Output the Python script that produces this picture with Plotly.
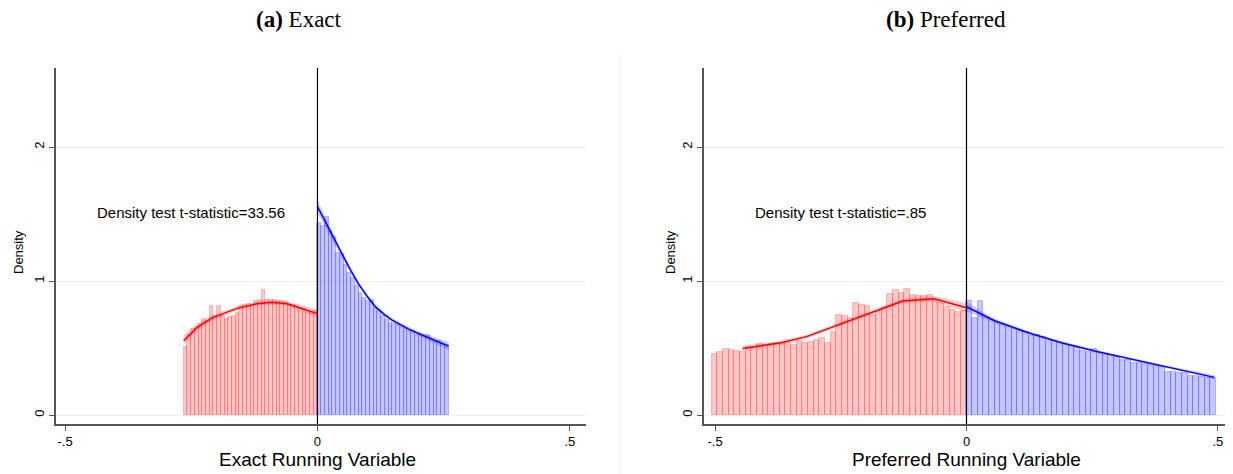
import plotly.graph_objects as go

# ---------------- data ----------------
# Panel (a) Exact: histogram bins
a_red_start, a_red_width = -0.265, 0.00736
a_red_density = [0.51, 0.60, 0.64, 0.66, 0.68, 0.72, 0.70, 0.81, 0.74, 0.81,
                 0.74, 0.72, 0.73, 0.74, 0.76, 0.81, 0.82, 0.83, 0.81, 0.85,
                 0.86, 0.93, 0.86, 0.86, 0.86, 0.85, 0.85, 0.84, 0.83, 0.82,
                 0.81, 0.80, 0.79, 0.78, 0.77, 0.775]
a_blue_start, a_blue_width = 0.0, 0.00743
a_blue_density = [1.43, 1.41, 1.48, 1.37, 1.33, 1.21, 1.20, 1.12, 1.06, 1.02,
                  0.96, 0.91, 0.87, 0.85, 0.86, 0.80, 0.78, 0.74, 0.71, 0.69,
                  0.68, 0.67, 0.66, 0.64, 0.63, 0.62, 0.60, 0.60, 0.58, 0.60,
                  0.56, 0.55, 0.555, 0.52, 0.51]
# Panel (a) fitted densities
a_red_fit_x = [-0.265, -0.238, -0.209, -0.159, -0.12, -0.09, -0.06, -0.027, 0.0]
a_red_fit_y = [0.555, 0.655, 0.725, 0.796, 0.830, 0.842, 0.830, 0.790, 0.757]
a_red_ci = [0.035, 0.025, 0.02, 0.015, 0.015, 0.015, 0.015, 0.02, 0.03]
a_blue_fit_x = [0.0, 0.016, 0.032, 0.048, 0.065, 0.081, 0.098, 0.114, 0.131, 0.147,
                0.164, 0.180, 0.197, 0.213, 0.230, 0.245, 0.260]
a_blue_fit_y = [1.555, 1.437, 1.320, 1.200, 1.085, 0.980, 0.888, 0.812, 0.755, 0.710,
                0.675, 0.643, 0.614, 0.587, 0.562, 0.538, 0.515]
a_blue_ci = [0.05, 0.04, 0.03, 0.025, 0.02, 0.018, 0.015, 0.015, 0.015, 0.015,
             0.015, 0.015, 0.015, 0.017, 0.02, 0.025, 0.03]

# Panel (b) Preferred: histogram bins
b_red_start, b_red_width = -0.507, 0.01127
b_red_density = [0.455, 0.470, 0.490, 0.483, 0.480, 0.470, 0.510, 0.510, 0.527, 0.522,
                 0.530, 0.540, 0.540, 0.540, 0.520, 0.555, 0.540, 0.545, 0.560, 0.572,
                 0.535, 0.617, 0.746, 0.739, 0.721, 0.833, 0.821, 0.813, 0.746, 0.776,
                 0.804, 0.903, 0.933, 0.908, 0.938, 0.898, 0.888, 0.888, 0.895, 0.853,
                 0.833, 0.804, 0.784, 0.766, 0.776]
b_blue_start, b_blue_width = 0.0, 0.01127
b_blue_density = [0.848, 0.726, 0.848, 0.734, 0.709, 0.684, 0.672, 0.659, 0.639, 0.629,
                  0.619, 0.592, 0.597, 0.585, 0.555, 0.552, 0.535, 0.520, 0.515, 0.505,
                  0.480, 0.470, 0.490, 0.465, 0.445, 0.445, 0.435, 0.410, 0.410, 0.390,
                  0.386, 0.381, 0.373, 0.366, 0.356, 0.323, 0.323, 0.316, 0.316, 0.294,
                  0.291, 0.286, 0.274, 0.274]
# Panel (b) fitted densities
b_red_fit_x = [-0.445, -0.369, -0.318, -0.217, -0.127, -0.064, 0.0]
b_red_fit_y = [0.497, 0.540, 0.585, 0.726, 0.851, 0.868, 0.800]
b_red_ci = [0.02, 0.015, 0.015, 0.015, 0.015, 0.02, 0.035]
b_blue_fit_x = [0.0, 0.056, 0.123, 0.189, 0.255, 0.321, 0.388, 0.454, 0.493]
b_blue_fit_y = [0.808, 0.704, 0.614, 0.540, 0.478, 0.423, 0.366, 0.316, 0.281]
b_blue_ci = [0.035, 0.015, 0.012, 0.01, 0.01, 0.01, 0.01, 0.012, 0.015]

panel_titles = ["<b>(a)</b> Exact", "<b>(b)</b> Preferred"]
x_titles = ["Exact Running Variable", "Preferred Running Variable"]
y_title = "Density"
stat_texts = ["Density test t-statistic=33.56", "Density test t-statistic=.85"]
x_tickvals = [-0.5, 0, 0.5]
x_ticktext = ["-.5", "0", ".5"]
y_tickvals = [0, 1, 2]
y_ticktext = ["0", "1", "2"]

# ---------------- styling ----------------
RED_FILL, RED_EDGE, RED_LINE, RED_BAND = "rgba(255,0,0,0.22)", "rgba(255,0,0,0.3)", "#ff0000", "rgba(255,0,0,0.2)"
BLUE_FILL, BLUE_EDGE, BLUE_LINE, BLUE_BAND = "rgba(0,0,255,0.22)", "rgba(0,0,255,0.3)", "#0000ff", "rgba(0,0,255,0.2)"
SANS = "Liberation Sans, Arial, sans-serif"
SERIF = "Liberation Serif, Times New Roman, serif"

fig = go.Figure()


def add_hist(start, width, dens, fill, edge, xa, ya):
    centers = [start + (i + 0.5) * width for i in range(len(dens))]
    fig.add_trace(go.Bar(x=centers, y=dens, width=[width] * len(dens),
                         marker=dict(color=fill, line=dict(color=edge, width=0.8)),
                         xaxis=xa, yaxis=ya, showlegend=False, hoverinfo="skip"))


def add_fit(xs, ys, ci, band, line, xa, ya):
    up = [y + c for y, c in zip(ys, ci)]
    lo = [y - c for y, c in zip(ys, ci)]
    fig.add_trace(go.Scatter(x=xs + xs[::-1], y=up + lo[::-1], fill="toself",
                             fillcolor=band, line=dict(width=0), mode="lines",
                             xaxis=xa, yaxis=ya, showlegend=False, hoverinfo="skip"))
    fig.add_trace(go.Scatter(x=xs, y=ys, mode="lines", line=dict(color=line, width=1.5),
                             xaxis=xa, yaxis=ya, showlegend=False))


add_hist(a_red_start, a_red_width, a_red_density, RED_FILL, RED_EDGE, "x", "y")
add_hist(a_blue_start, a_blue_width, a_blue_density, BLUE_FILL, BLUE_EDGE, "x", "y")
add_fit(a_red_fit_x, a_red_fit_y, a_red_ci, RED_BAND, RED_LINE, "x", "y")
add_fit(a_blue_fit_x, a_blue_fit_y, a_blue_ci, BLUE_BAND, BLUE_LINE, "x", "y")

add_hist(b_red_start, b_red_width, b_red_density, RED_FILL, RED_EDGE, "x2", "y2")
add_hist(b_blue_start, b_blue_width, b_blue_density, BLUE_FILL, BLUE_EDGE, "x2", "y2")
add_fit(b_red_fit_x, b_red_fit_y, b_red_ci, RED_BAND, RED_LINE, "x2", "y2")
add_fit(b_blue_fit_x, b_blue_fit_y, b_blue_ci, BLUE_BAND, BLUE_LINE, "x2", "y2")

# page has an 8px body margin: lay out in page pixels, then offset
OFF = 8
W, H = 1233 - OFF, 474 - OFF


def px(x):
    return (x - OFF) / W


def py(y):
    return 1 - (y - OFF) / H


ydom = [py(424), py(68)]
xdoms = [[px(56), px(586)], [px(704), 1.0]]
xranges = [[-0.518, 0.532], [-0.522, 0.530]]
yrange = [-0.067, 2.59]

tick_font = dict(family=SANS, size=13, color="#000")
layout = dict(width=W, height=H, margin=dict(l=0, r=0, t=0, b=0),
              paper_bgcolor="white", plot_bgcolor="white", barmode="overlay",
              bargap=0, showlegend=False)

for k in range(2):
    sx = "" if k == 0 else "2"
    layout["xaxis" + sx] = dict(domain=xdoms[k], range=xranges[k], tickvals=x_tickvals,
                                ticktext=x_ticktext, showgrid=False, zeroline=False,
                                showline=True, linecolor="#555", linewidth=1.5,
                                ticks="outside", ticklen=5, tickcolor="#555",
                                tickfont=tick_font, anchor="y" + sx, automargin=False)
    layout["yaxis" + sx] = dict(domain=ydom, range=yrange, tickvals=y_tickvals,
                                ticktext=y_ticktext, tickangle=-90, showgrid=True,
                                gridcolor="#e8f0f1", gridwidth=1, zeroline=False,
                                showline=True, linecolor="#555", linewidth=1.5,
                                ticks="outside", ticklen=5, tickcolor="#555",
                                tickfont=tick_font, anchor="x" + sx, automargin=False)

fig.update_layout(**layout)

title_x = [px(299), px(946)]
ytitle_x = [px(18), px(670)]
for k in range(2):
    sx = "" if k == 0 else "2"
    # cutoff line
    fig.add_shape(type="line", xref="x" + sx, yref="paper", x0=0, x1=0,
                  y0=ydom[0], y1=ydom[1], line=dict(color="black", width=1.2))
    # density test annotation
    fig.add_annotation(xref="x" + sx, yref="y" + sx, x=-0.25, y=1.51, text=stat_texts[k],
                       showarrow=False, font=dict(family=SANS, size=15, color="#000"))
    # x-axis title
    fig.add_annotation(xref="x" + sx, yref="paper", x=0, y=py(459), text=x_titles[k],
                       showarrow=False, xanchor="center", yanchor="middle",
                       font=dict(family=SANS, size=19, color="#000"))
    # y-axis title
    fig.add_annotation(xref="paper", yref="paper", x=ytitle_x[k], y=py(252), text=y_title,
                       textangle=-90, showarrow=False, xanchor="center", yanchor="middle",
                       font=dict(family=SANS, size=13, color="#000"))
    # panel title
    fig.add_annotation(xref="paper", yref="paper", x=title_x[k], y=py(20), text=panel_titles[k],
                       showarrow=False, xanchor="center", yanchor="middle",
                       font=dict(family=SERIF, size=23, color="#000"))

# faint separator between panels
fig.add_shape(type="line", xref="paper", yref="paper", x0=px(620), x1=px(620),
              y0=0, y1=py(55), line=dict(color="#eeeeee", width=1))

fig.write_html("out.html")
